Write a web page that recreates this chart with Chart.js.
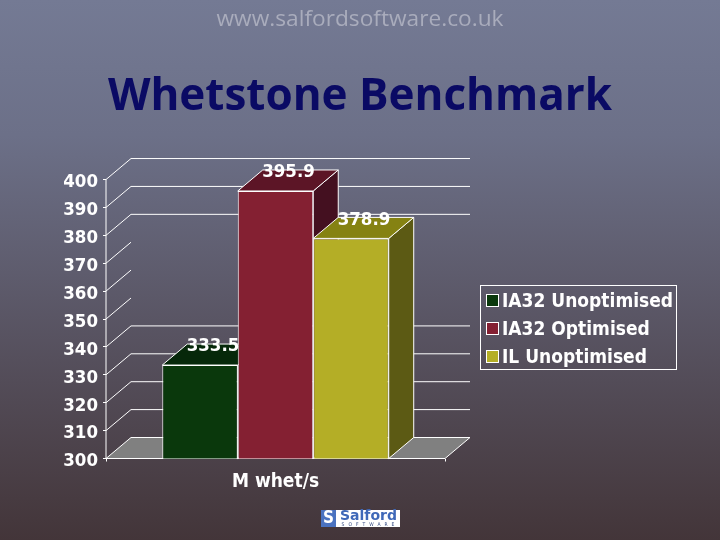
<!DOCTYPE html>
<html><head><meta charset="utf-8">
<style>html,body{margin:0;padding:0;width:720px;height:540px;overflow:hidden;background:linear-gradient(180deg,#747a94 0%,#6c7088 25%,#433539 100%);}canvas{display:block}</style>
<script src="https://cdn.jsdelivr.net/npm/chart.js@4"></script>
</head><body><canvas id="c" width="720" height="540"></canvas>
<script>
const categories = ['M whet/s'];
const seriesNames = ['IA32 Unoptimised', 'IA32 Optimised', 'IL Unoptimised'];
const unoptimised = [333.5];
const optimised = [395.9];
const ilUnoptimised = [378.9];
const yMin = 300, yMax = 400, yStep = 10;
const wallLineValues = [300, 310, 320, 330, 340, 380, 390, 400];
const urlText = 'www.salfordsoftware.co.uk';
const titleText = 'Whetstone Benchmark';
const logoWord = 'Salford', logoSub = 'SOFTWARE';

const FACE = '"DejaVu Sans Condensed","DejaVu Sans",sans-serif';
const DX = 25, DY = 21;
const front = ['#0a380c', '#842032', '#b4ae26'];
const topFace = ['#06280a', '#5c1526', '#858212'];
const sideFace = ['#052006', '#441020', '#5c5a14'];

function poly(ctx, pts, fill, stroke) {
  ctx.beginPath();
  pts.forEach((p, i) => i ? ctx.lineTo(p[0], p[1]) : ctx.moveTo(p[0], p[1]));
  ctx.closePath();
  if (fill) { ctx.fillStyle = fill; ctx.fill(); }
  if (stroke) { ctx.strokeStyle = stroke; ctx.lineWidth = 1; ctx.stroke(); }
}

const threeD = {
  id: 'threeD',
  beforeDatasetsDraw(chart) {
    const { ctx, chartArea: a, scales: { y } } = chart;
    ctx.save();
    const b = y.getPixelForValue(yMin);
    poly(ctx, [[a.left, b], [a.left + DX, b - DY], [a.right + DX, b - DY], [a.right, b]], '#808080', null);
    ctx.strokeStyle = '#fff'; ctx.lineWidth = 1;
    ctx.beginPath();
    ctx.moveTo(a.left, y.getPixelForValue(yMax)); ctx.lineTo(a.left, b); ctx.lineTo(a.right, b);
    ctx.moveTo(a.right, b); ctx.lineTo(a.right + DX, b - DY);
    for (let v = yMin; v <= yMax; v += yStep) {
      const p = y.getPixelForValue(v);
      ctx.moveTo(a.left, p); ctx.lineTo(a.left + DX, p - DY);
    }
    wallLineValues.forEach(v => {
      const p = y.getPixelForValue(v) - DY;
      ctx.moveTo(a.left + DX, p); ctx.lineTo(a.right + DX, p);
    });
    ctx.stroke();
    chart.data.datasets.forEach((ds, i) => {
      const el = chart.getDatasetMeta(i).data[0];
      const l = el.x - el.width / 2, r = el.x + el.width / 2, t = el.y, bt = b;
      poly(ctx, [[r, t], [r + DX, t - DY], [r + DX, bt - DY], [r, bt]], sideFace[i], '#fff');
      poly(ctx, [[l, t], [l + DX, t - DY], [r + DX, t - DY], [r, t]], topFace[i], '#fff');
    });
    ctx.restore();
  },
  afterDatasetsDraw(chart) {
    const { ctx } = chart;
    ctx.save();
    ctx.font = 'bold 18.5px ' + FACE;
    ctx.fillStyle = '#fff'; ctx.textAlign = 'center'; ctx.textBaseline = 'middle';
    chart.data.datasets.forEach((ds, i) => {
      const el = chart.getDatasetMeta(i).data[0];
      ctx.fillText(ds.data[0].toFixed(1), el.x + 13, el.y - 18.5);
    });
    ctx.restore();
  },
  afterDraw(chart) {
    const { ctx } = chart;
    ctx.save();
    // legend
    ctx.strokeStyle = '#fff'; ctx.lineWidth = 1;
    ctx.strokeRect(480.5, 285.5, 196, 84);
    ctx.font = 'bold 19px ' + FACE;
    ctx.textAlign = 'left'; ctx.textBaseline = 'middle';
    chart.data.datasets.forEach((ds, i) => {
      const cy = 301 + i * 28;
      ctx.fillStyle = ds.backgroundColor;
      ctx.fillRect(486.5, cy - 6.5, 12, 12);
      ctx.strokeRect(486.5, cy - 6.5, 12, 12);
      ctx.fillStyle = '#fff';
      ctx.fillText(ds.label, 502, cy + 1);
    });
    // logo
    ctx.fillStyle = '#4a72c0'; ctx.fillRect(321, 510, 15, 17);
    ctx.fillStyle = '#fff'; ctx.fillRect(336, 510, 64, 17);
    ctx.textAlign = 'center';
    ctx.font = 'bold 17px ' + FACE;
    ctx.fillText('S', 328.5, 519);
    ctx.fillStyle = '#3f68b8';
    ctx.font = 'bold 14px "DejaVu Sans",sans-serif';
    ctx.fillText(logoWord, 368.5, 516.5);
    ctx.fillStyle = '#334a80';
    ctx.font = '5px ' + FACE;
    ctx.letterSpacing = '4px';
    ctx.fillText(logoSub, 370, 524.5);
    ctx.restore();
  }
};

new Chart(document.getElementById('c'), {
  type: 'bar',
  data: {
    labels: categories,
    datasets: [
      { label: seriesNames[0], data: unoptimised, backgroundColor: front[0] },
      { label: seriesNames[1], data: optimised, backgroundColor: front[1] },
      { label: seriesNames[2], data: ilUnoptimised, backgroundColor: front[2] }
    ].map(d => Object.assign(d, { borderColor: '#fff', borderWidth: 1, barPercentage: 1, categoryPercentage: 0.668 }))
  },
  options: {
    responsive: false, animation: false, devicePixelRatio: 1,
    plugins: {
      legend: { display: false }, tooltip: { enabled: false },
      title: { display: true, text: titleText, color: '#0a0a64',
        font: { family: '"Open Sans"', size: 44, weight: '700', lineHeight: 1.2 },
        padding: { top: 0, bottom: 56 } },
      subtitle: { display: true, text: urlText, color: '#a9acbc', weight: 3000,
        font: { family: '"Open Sans"', size: 22.7, weight: 'normal', lineHeight: 1.2 },
        padding: { top: 6, bottom: 37.5 } }
    },
    scales: {
      y: { min: yMin, max: yMax,
        ticks: { stepSize: yStep, color: '#fff', padding: 5, labelOffset: 3, font: { family: FACE, size: 18.5, weight: 'bold' } },
        grid: { drawOnChartArea: false, color: '#fff', tickLength: 3 }, border: { display: false },
        afterFit(s) { s.width = 106; } },
      spacer: { position: 'right', type: 'linear', display: true,
        ticks: { display: false }, grid: { display: false }, border: { display: false },
        afterFit(s) { s.width = 275; } },
      x: {
        ticks: { color: '#fff', padding: 9, font: { family: FACE, size: 19, weight: 'bold' } },
        grid: { drawOnChartArea: false, color: '#fff', tickLength: 3 }, border: { display: false },
        afterFit(s) { s.height = 81.5; } }
    }
  },
  plugins: [threeD]
});
</script></body></html>
